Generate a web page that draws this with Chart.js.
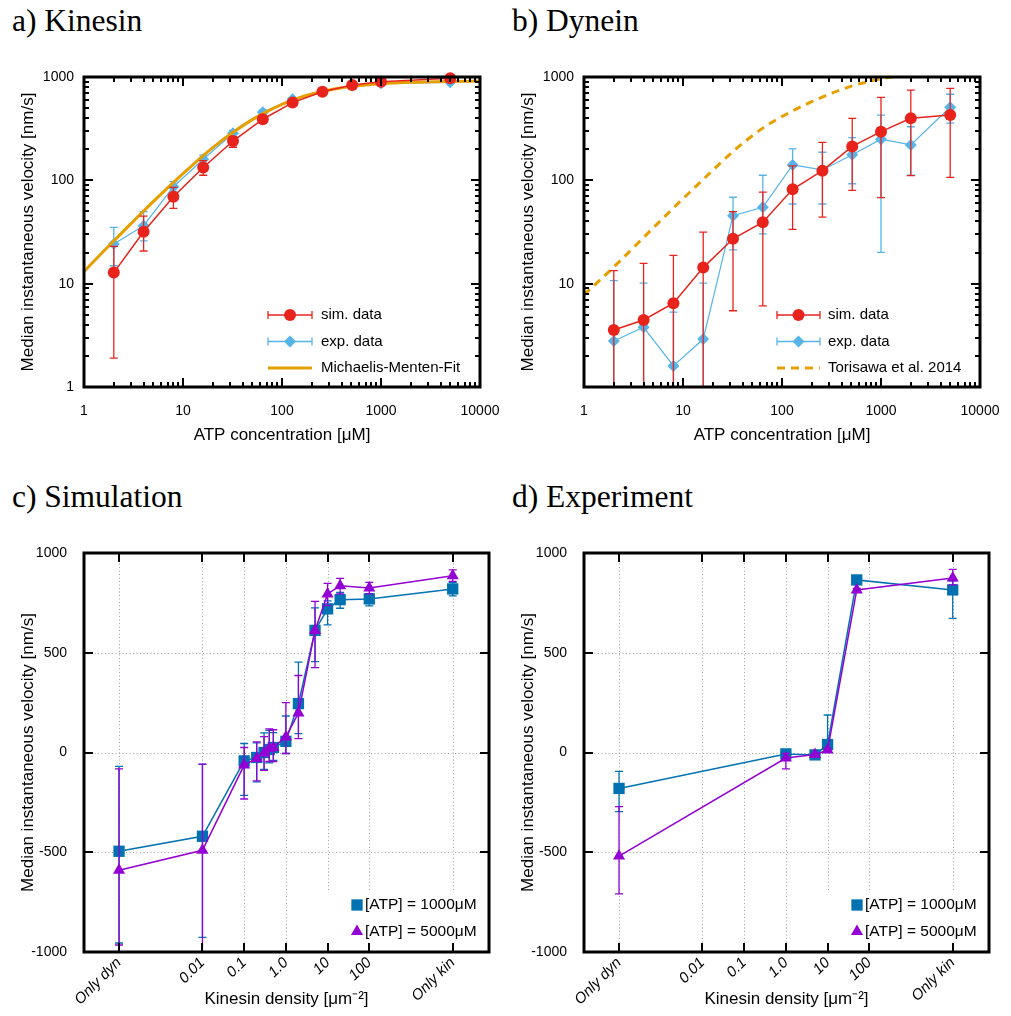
<!DOCTYPE html>
<html><head><meta charset="utf-8">
<script src="https://cdn.jsdelivr.net/npm/chart.js@4.4.1/dist/chart.umd.min.js"></script>
<style>
body{margin:0;background:#fff;width:1011px;height:1016px;position:relative;overflow:hidden;}
.t{position:absolute;font-family:"Liberation Serif","Times New Roman",serif;font-size:31.5px;color:#000;line-height:1;white-space:nowrap;}
canvas{position:absolute;}
</style></head><body>
<div class="t" style="left:12px;top:5px">a) Kinesin</div>
<div class="t" style="left:512px;top:5px">b) Dynein</div>
<div class="t" style="left:12px;top:481px">c) Simulation</div>
<div class="t" style="left:512px;top:481px">d) Experiment</div>
<canvas id="ca" width="505" height="410" style="left:0;top:50px"></canvas>
<canvas id="cb" width="505" height="410" style="left:500px;top:50px"></canvas>
<canvas id="cc" width="505" height="496" style="left:0;top:520px"></canvas>
<canvas id="cd" width="505" height="496" style="left:500px;top:520px"></canvas>
<script>
// ---------- DATA ----------
// a) Kinesin
const atpA = [2, 4, 8, 16, 32, 64, 128, 256, 512, 1000, 5000];
const simA = [12.8, 31.8, 69.5, 133, 240, 390, 565, 721, 837, 901, 973];
const simALo = [1.9, 20.7, 53.6, 112, 209, 362, 535, 695, 812, 875, 950];
const simAHi = [23, 45, 85.5, 155, 264, 418, 595, 748, 862, 928, 995];
const expA = [24.2, 36.4, 86.8, 160, 285, 455, 608, 720, 826, 869, 889];
const expALo = [14.9, 26, 78, 146, 266, 432, 588, 702, 810, 852, 872];
const expAHi = [35, 49.7, 97, 175, 304, 478, 628, 738, 842, 886, 906];
const fitAX = [1, 1.5, 2, 3, 5, 7, 10, 15, 20, 30, 50, 70, 100, 150, 200, 300, 500, 700, 1000, 2000, 5000, 10000];
const fitAY = [13.1, 19.6, 25.9, 38.3, 62.2, 84.7, 116, 164, 207, 279, 387, 463, 544, 630, 684, 748, 808, 837, 861, 889, 907, 914];
// b) Dynein
const atpB = [2, 4, 8, 16, 32, 64, 128, 256, 512, 1000, 2000, 5000];
const simB = [3.56, 4.45, 6.46, 14.3, 27.2, 39.3, 81.9, 124, 213, 296, 398, 428];
const simBLo = [0.3, 0.3, 0.3, 0.3, 5.47, 6.1, 33.6, 44, 80, 68, 111, 107];
const simBHi = [13.4, 15.7, 18.8, 31.6, 49.7, 77, 138, 233, 398, 636, 748, 777];
const expB = [2.79, 3.78, 1.6, 2.91, 45.5, 54.8, 141, 126, 177, 250, 220, 509];
const expBLo = [0.3, 0.3, 0.3, 0.3, 21.2, 30.3, 59, 59, 92.7, 20.1, 112, 357];
const expBHi = [10.7, 10.1, 5.3, 10.1, 68.6, 112, 202, 187, 259, 428, 330, 681];
const torX = [1, 2, 4, 8, 16, 32, 64, 128, 256, 512, 1000, 2000];
const torY = [7.8, 14.5, 28, 54, 102, 190, 320, 470, 640, 820, 960, 1080];
// ATP axis ticks
const atpTicks = [1, 10, 100, 1000, 10000];
const atpTickLabels = ['1', '10', '100', '1000', '10000'];
const velTicks = [1, 10, 100, 1000];
const velTickLabelsA = ['1', '10', '100', '1000'];
const velTickLabelsB = ['', '10', '100', '1000'];
// c) Simulation
const densC = [1e-4, 0.01, 0.1, 0.2, 0.3, 0.4, 0.5, 1, 2, 5, 10, 20, 100, 1e4];
const sim1000 = [-495, -420, -42, -25, 0, 15, 25, 56, 245, 612, 720, 766, 770, 820];
const sim1000Lo = [-955, -927, -215, -147, -85, -52, -40, -5, 95, 456, 640, 723, 735, 785];
const sim1000Hi = [-70, -60, 45, 48, 98, 111, 100, 183, 453, 725, 760, 803, 795, 853];
const sim5000 = [-590, -490, -63, -30, -2, 20, 25, 78, 198, 612, 795, 836, 825, 886];
const sim5000Lo = [-965, -1060, -233, -142, -90, -45, -45, -5, 70, 425, 736, 795, 795, 858];
const sim5000Hi = [-82, -58, 25, 53, 80, 118, 114, 250, 386, 758, 848, 873, 853, 915];
// d) Experiment
const densD = [1e-4, 1, 5, 10, 50, 1e4];
const exp1000 = [-180, -7, -12, 40, 865, 815];
const exp1000Lo = [-296, -12, -18, 25, 855, 672];
const exp1000Hi = [-95, -2, -6, 188, 872, 860];
const exp5000 = [-519, -28, -10, 12, 815, 875];
const exp5000Lo = [-709, -82, -15, 5, 808, 840];
const exp5000Hi = [-271, -5, -5, 20, 822, 918];
// density axis ticks
const densTicks = [1e-4, 0.01, 0.1, 1, 10, 100, 1e4];
const densTickLabels = ['Only dyn', '0.01', '0.1', '1.0', '10', '100', 'Only kin'];
const speedTicks = [-1000, -500, 0, 500, 1000];

// ---------- STYLE ----------
const RED = '#e8231c', BLUE = '#56b4e9', ORANGE = '#e69f00', DBLUE = '#0072b2', PURPLE = '#9400d3';
const FONT = "'Liberation Sans', Arial, sans-serif";
Chart.defaults.font.family = FONT;
Chart.defaults.color = '#000';
Chart.defaults.animation = false;
Chart.defaults.events = [];
Chart.defaults.plugins.legend.display = false;
Chart.defaults.plugins.tooltip.enabled = false;

const pts = (xs, ys) => xs.map((x, i) => ({x: x, y: ys[i]}));

function drawMarker(ctx, style, x, y, r, color) {
  ctx.fillStyle = color; ctx.beginPath();
  if (style === 'circle') ctx.arc(x, y, r, 0, Math.PI * 2);
  else if (style === 'rectRot') { ctx.moveTo(x, y - r); ctx.lineTo(x + r, y); ctx.lineTo(x, y + r); ctx.lineTo(x - r, y); ctx.closePath(); }
  else if (style === 'rect') { const s = r * Math.SQRT1_2; ctx.rect(x - s, y - s, 2 * s, 2 * s); }
  else if (style === 'triangle') { ctx.moveTo(x, y - r); ctx.lineTo(x + r * 0.866, y + r / 2); ctx.lineTo(x - r * 0.866, y + r / 2); ctx.closePath(); }
  ctx.fill();
}

function logMinors(min, max) {
  const out = [];
  for (let e = Math.floor(Math.log10(min)); e <= Math.ceil(Math.log10(max)); e++) {
    for (let k = 2; k <= 9; k++) { const v = k * Math.pow(10, e); if (v > min && v < max) out.push(v); }
  }
  return out;
}

const framePlugin = {
  id: 'frame',
  beforeDatasetsDraw(chart, args, o) {
    const {ctx, chartArea: a, scales: {x, y}} = chart;
    ctx.save();
    if (o.grid) {
      ctx.strokeStyle = '#a0a0a0'; ctx.lineWidth = 1; ctx.setLineDash([1, 2.5]);
      x.ticks.forEach(t => { const px = Math.round(x.getPixelForValue(t.value)) + 0.5; ctx.beginPath(); ctx.moveTo(px, a.top); ctx.lineTo(px, a.bottom); ctx.stroke(); });
      y.ticks.forEach(t => { const py = Math.round(y.getPixelForValue(t.value)) + 0.5; if (py <= a.top + 2 || py >= a.bottom - 2) return; ctx.beginPath(); ctx.moveTo(a.left, py); ctx.lineTo(a.right, py); ctx.stroke(); });
      ctx.setLineDash([]);
    }
    if (o.keyBox) {
      ctx.fillStyle = '#fff';
      ctx.fillRect(o.keyBox[0], o.keyBox[1], a.right - o.keyBox[0], a.bottom - o.keyBox[1]);
    }
    ctx.restore();
  },
  afterDraw(chart, args, o) {
    const {ctx, chartArea: a, scales: {x, y}} = chart;
    ctx.save(); ctx.strokeStyle = '#000'; ctx.lineWidth = 2;
    const M = 9, m = 5;
    const vt = (px, len) => { ctx.beginPath(); ctx.moveTo(px, a.bottom); ctx.lineTo(px, a.bottom - len); ctx.moveTo(px, a.top); ctx.lineTo(px, a.top + len); ctx.stroke(); };
    const ht = (py, len) => { ctx.beginPath(); ctx.moveTo(a.left, py); ctx.lineTo(a.left + len, py); ctx.moveTo(a.right, py); ctx.lineTo(a.right - len, py); ctx.stroke(); };
    x.ticks.forEach(t => vt(Math.round(x.getPixelForValue(t.value)), M));
    y.ticks.forEach(t => ht(Math.round(y.getPixelForValue(t.value)), M));
    if (o.minorX) logMinors(x.min, x.max).forEach(v => vt(Math.round(x.getPixelForValue(v)), m));
    if (o.minorY) logMinors(y.min, y.max).forEach(v => ht(Math.round(y.getPixelForValue(v)), m));
    ctx.lineWidth = 3;
    ctx.strokeRect(a.left, a.top, a.right - a.left, a.bottom - a.top);
    ctx.restore();
  }
};

const errPlugin = {
  id: 'errbars',
  beforeDatasetDraw(chart, args) {
    const ds = chart.data.datasets[args.index];
    if (!ds.errLo) return;
    const {ctx, chartArea: a, scales: {x, y}} = chart;
    ctx.save();
    ctx.beginPath(); ctx.rect(a.left, a.top, a.right - a.left, a.bottom - a.top); ctx.clip();
    ctx.strokeStyle = ds.borderColor; ctx.lineWidth = 1.3;
    const cap = 4;
    ds.data.forEach((p, i) => {
      const px = x.getPixelForValue(p.x);
      const lo = y.getPixelForValue(ds.errLo[i]), hi = y.getPixelForValue(ds.errHi[i]);
      ctx.beginPath();
      ctx.moveTo(px, lo); ctx.lineTo(px, hi);
      ctx.moveTo(px - cap, lo); ctx.lineTo(px + cap, lo);
      ctx.moveTo(px - cap, hi); ctx.lineTo(px + cap, hi);
      ctx.stroke();
    });
    ctx.restore();
  }
};

const keyPlugin = {
  id: 'key',
  afterDraw(chart, args, o) {
    if (!o.items) return;
    const ctx = chart.ctx;
    ctx.save();
    ctx.font = o.fontSize + 'px ' + FONT; ctx.textBaseline = 'middle'; ctx.textAlign = 'left'; ctx.fillStyle = '#000';
    o.items.forEach((it, i) => {
      const yy = o.y0 + i * o.dy;
      if (it.line) {
        ctx.strokeStyle = it.color; ctx.lineWidth = it.width || 1.3; ctx.setLineDash(it.dash || []);
        ctx.beginPath(); ctx.moveTo(o.x1, yy); ctx.lineTo(o.x2, yy); ctx.stroke();
        ctx.setLineDash([]);
        if (it.caps) { ctx.lineWidth = 1.3; ctx.beginPath(); ctx.moveTo(o.x1, yy - 4); ctx.lineTo(o.x1, yy + 4); ctx.moveTo(o.x2, yy - 4); ctx.lineTo(o.x2, yy + 4); ctx.stroke(); }
      }
      if (it.marker) drawMarker(ctx, it.marker, o.mx, yy, it.r, it.color);
      ctx.fillStyle = '#000';
      ctx.fillText(it.label, o.tx, yy);
    });
    ctx.restore();
  }
};

// fixed axis sizes; remove automatic label overflow padding so the plot area stays put
const fixH = h => s => { s.height = h; s.paddingLeft = 0; s.paddingRight = 0; };
const fixW = w => s => { s.width = w; s.paddingTop = 0; s.paddingBottom = 0; };

function logAxis(min, max, ticks, labels, extra, pad) {
  return Object.assign({
    type: 'logarithmic', min: min, max: max,
    afterBuildTicks: s => { s.ticks = ticks.map(v => ({value: v})); },
    grid: {display: false, drawTicks: false}, border: {display: false},
    ticks: {autoSkip: false, maxRotation: 0, padding: pad, font: {size: 14}, callback: (v, i) => labels[i]}
  }, extra);
}

function atpChart(id, datasets, yLabels, key) {
  return new Chart(document.getElementById(id), {
    type: 'scatter',
    data: {datasets: datasets},
    options: {
      responsive: false,
      layout: {padding: {top: 27, right: 25, left: 0, bottom: 0}},
      scales: {
        x: logAxis(1, 10000, atpTicks, atpTickLabels, {
          afterFit: fixH(73),
          title: {display: true, text: 'ATP concentration [μM]', font: {size: 17}, padding: {bottom: 14, top: 0}}
        }, 16),
        y: logAxis(1, 1000, velTicks, yLabels, {
          afterFit: fixW(84),
          title: {display: true, text: 'Median instantaneous velocity [nm/s]', font: {size: 17}, padding: {top: 18, bottom: 0}}
        }, 10)
      },
      plugins: {frame: {minorX: true, minorY: true}, key: key}
    },
    plugins: [framePlugin, errPlugin, keyPlugin]
  });
}
atpChart('ca', [
  {label: 'sim. data', data: pts(atpA, simA), errLo: simALo, errHi: simAHi, borderColor: RED, backgroundColor: RED, showLine: true, borderWidth: 1.5, pointStyle: 'circle', pointRadius: 6, pointBorderWidth: 0, clip: false},
  {label: 'Michaelis-Menten-Fit', data: pts(fitAX, fitAY), borderColor: ORANGE, borderWidth: 3, showLine: true, pointRadius: 0, cubicInterpolationMode: 'monotone'},
  {label: 'exp. data', data: pts(atpA, expA), errLo: expALo, errHi: expAHi, borderColor: BLUE, backgroundColor: BLUE, showLine: true, borderWidth: 1.2, pointStyle: 'rectRot', pointRadius: 6, pointBorderWidth: 0, clip: false}
], velTickLabelsA, {
  fontSize: 15, x1: 268, x2: 312, mx: 290, tx: 321, y0: 265, dy: 26.5,
  items: [
    {label: 'sim. data', color: RED, line: true, caps: true, marker: 'circle', r: 6},
    {label: 'exp. data', color: BLUE, line: true, caps: true, marker: 'rectRot', r: 6},
    {label: 'Michaelis-Menten-Fit', color: ORANGE, line: true, width: 3}
  ]
});
atpChart('cb', [
  {label: 'sim. data', data: pts(atpB, simB), errLo: simBLo, errHi: simBHi, borderColor: RED, backgroundColor: RED, showLine: true, borderWidth: 1.5, pointStyle: 'circle', pointRadius: 6, pointBorderWidth: 0, clip: false},
  {label: 'exp. data', data: pts(atpB, expB), errLo: expBLo, errHi: expBHi, borderColor: BLUE, backgroundColor: BLUE, showLine: true, borderWidth: 1.2, pointStyle: 'rectRot', pointRadius: 6, pointBorderWidth: 0, clip: false},
  {label: 'Torisawa et al. 2014', data: pts(torX, torY), borderColor: ORANGE, borderWidth: 3, borderDash: [8, 6], showLine: true, pointRadius: 0, cubicInterpolationMode: 'monotone'}
], velTickLabelsB, {
  fontSize: 15, x1: 277, x2: 320, mx: 298.5, tx: 328, y0: 265, dy: 26.5,
  items: [
    {label: 'sim. data', color: RED, line: true, caps: true, marker: 'circle', r: 6},
    {label: 'exp. data', color: BLUE, line: true, caps: true, marker: 'rectRot', r: 6},
    {label: 'Torisawa et al. 2014', color: ORANGE, line: true, width: 3, dash: [8, 6]}
  ]
});

function densChart(id, xs, blue, blueLo, blueHi, purple, purpleLo, purpleHi) {
  return new Chart(document.getElementById(id), {
    type: 'scatter',
    data: {datasets: [
      {label: '[ATP] = 5000μM', data: pts(xs, purple), errLo: purpleLo, errHi: purpleHi, borderColor: PURPLE, backgroundColor: PURPLE, showLine: true, borderWidth: 1.5, pointStyle: 'triangle', pointRadius: 7, pointBorderWidth: 0, clip: false},
      {label: '[ATP] = 1000μM', data: pts(xs, blue), errLo: blueLo, errHi: blueHi, borderColor: DBLUE, backgroundColor: DBLUE, showLine: true, borderWidth: 1.5, pointStyle: 'rect', pointRadius: 8, pointBorderWidth: 0, clip: false}
    ]},
    options: {
      responsive: false,
      layout: {padding: {top: 33, right: 16, left: 0, bottom: 0}},
      scales: {
        x: {
          type: 'logarithmic', min: Math.pow(10, -4.84), max: Math.pow(10, 4.87),
          afterBuildTicks: s => { s.ticks = densTicks.map(v => ({value: v})); },
          afterFit: fixH(64),
          grid: {display: false, drawTicks: false}, border: {display: false},
          ticks: {autoSkip: false, minRotation: 45, maxRotation: 45, padding: 2, font: {size: 15, style: 'italic'}, callback: (v, i) => densTickLabels[i]},
          title: {display: true, text: 'Kinesin density [μm⁻²]', font: {size: 17}, padding: {bottom: 6, top: 0}}
        },
        y: {
          type: 'linear', min: -1000, max: 1000,
          afterBuildTicks: s => { s.ticks = speedTicks.map(v => ({value: v})); },
          afterFit: fixW(84),
          grid: {display: false, drawTicks: false}, border: {display: false},
          ticks: {font: {size: 14}, padding: 17, callback: v => String(v)},
          title: {display: true, text: 'Median instantaneous velocity [nm/s]', font: {size: 17}, padding: {top: 18, bottom: 0}}
        }
      },
      plugins: {
        frame: {grid: true, keyBox: [312, 372]},
        key: {
          fontSize: 15.5, mx: 357, tx: 365, y0: 385, dy: 26.5,
          items: [
            {label: '[ATP] = 1000μM', color: DBLUE, marker: 'rect', r: 8},
            {label: '[ATP] = 5000μM', color: PURPLE, marker: 'triangle', r: 7}
          ]
        }
      }
    },
    plugins: [framePlugin, errPlugin, keyPlugin]
  });
}
densChart('cc', densC, sim1000, sim1000Lo, sim1000Hi, sim5000, sim5000Lo, sim5000Hi);
densChart('cd', densD, exp1000, exp1000Lo, exp1000Hi, exp5000, exp5000Lo, exp5000Hi);
</script>
</body></html>
